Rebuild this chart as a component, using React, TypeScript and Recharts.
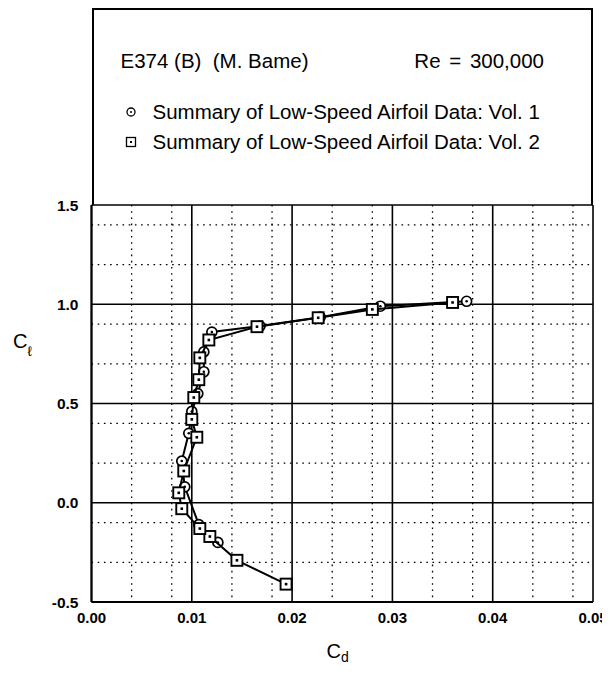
import { ScatterChart, Scatter, XAxis, YAxis, CartesianGrid, Legend, Label } from 'recharts'

// Vol. 1 (circles), ordered by Cl
const vol1Cd = [0.0126, 0.0107, 0.0093, 0.009, 0.0097, 0.01, 0.0106, 0.0112, 0.0112, 0.012, 0.0168, 0.0228, 0.0288, 0.0374]
const vol1Cl = [-0.2, -0.11, 0.08, 0.21, 0.35, 0.46, 0.55, 0.66, 0.76, 0.86, 0.89, 0.935, 0.99, 1.015]

// Vol. 2 (squares)
const vol2Cd = [0.0194, 0.0145, 0.0118, 0.0108, 0.009, 0.0087, 0.0092, 0.0105, 0.01, 0.0102, 0.0107, 0.0108, 0.0117, 0.0165, 0.0226, 0.028, 0.036]
const vol2Cl = [-0.41, -0.29, -0.17, -0.13, -0.03, 0.05, 0.16, 0.33, 0.42, 0.53, 0.62, 0.73, 0.82, 0.887, 0.932, 0.974, 1.009]

const cdTicks = [0, 0.01, 0.02, 0.03, 0.04, 0.05]
const clTicks = [-0.5, 0, 0.5, 1.0, 1.5]
const cdMinor = [0.002, 0.004, 0.006, 0.008, 0.012, 0.014, 0.016, 0.018, 0.022, 0.024, 0.026, 0.028, 0.032, 0.034, 0.036, 0.038, 0.042, 0.044, 0.046, 0.048]
const clMinor = [-0.4, -0.3, -0.2, -0.1, 0.1, 0.2, 0.3, 0.4, 0.6, 0.7, 0.8, 0.9, 1.1, 1.2, 1.3, 1.4]

const seriesNames = ['Summary of Low-Speed Airfoil Data: Vol. 1', 'Summary of Low-Speed Airfoil Data: Vol. 2']

const vol1 = vol1Cd.map((cd, i) => ({ cd, cl: vol1Cl[i] }))
const vol2 = vol2Cd.map((cd, i) => ({ cd, cl: vol2Cl[i] }))

const FONT = '"Liberation Sans", Arial, sans-serif'

function CircleDot({ cx, cy }: any) {
  return (
    <g>
      <circle cx={cx} cy={cy} r={5} fill="#fff" stroke="#000" strokeWidth={1.7} />
      <circle cx={cx} cy={cy} r={1.3} fill="#000" />
    </g>
  )
}

function SquareDot({ cx, cy }: any) {
  return (
    <g>
      <rect x={cx - 5.5} y={cy - 5.5} width={11} height={11} fill="#fff" stroke="#000" strokeWidth={1.9} />
      <rect x={cx - 1.3} y={cy - 1.3} width={2.6} height={2.6} fill="#000" />
    </g>
  )
}

function LegendIcon({ idx }: { idx: number }) {
  return (
    <svg width={12} height={12} style={{ position: 'absolute', left: -6, top: 4 }}>
      {idx === 0 ? (
        <>
          <circle cx={6} cy={6} r={4} fill="#fff" stroke="#000" strokeWidth={1.3} />
          <circle cx={6} cy={6} r={1} fill="#000" />
        </>
      ) : (
        <>
          <rect x={1.5} y={1.5} width={9} height={9} fill="#fff" stroke="#000" strokeWidth={1.3} />
          <rect x={5} y={5} width={2} height={2} fill="#000" />
        </>
      )}
    </svg>
  )
}

function HeaderBox({ payload }: any) {
  const items = payload ?? []
  return (
    <div
      style={{
        boxSizing: 'border-box',
        height: 197,
        width: 501.5,
        border: '2px solid #000',
        borderBottom: 'none',
        position: 'relative',
        fontFamily: FONT,
        fontSize: 20.5,
        lineHeight: '20px',
        color: '#000',
      }}
    >
      <span style={{ position: 'absolute', left: 27, top: 41 }}>E374 (B)&nbsp;&nbsp;(M. Bame)</span>
      <span style={{ position: 'absolute', right: 47, top: 41, wordSpacing: 3 }}>Re = 300,000</span>
      {items.map((entry: any, i: number) => (
        <div key={i} style={{ position: 'absolute', left: 37, top: 92 + i * 30, whiteSpace: 'nowrap' }}>
          <LegendIcon idx={i} />
          <span style={{ position: 'absolute', left: 22, top: 0 }}>{entry.value}</span>
        </div>
      ))}
    </div>
  )
}

function ClLabel({ viewBox }: any) {
  return (
    <text x={viewBox.x + 5} y={viewBox.y + 143} fontFamily={FONT} fontSize={20} fill="#000">
      C<tspan fontSize={14} dy={8}>ℓ</tspan>
    </text>
  )
}

function CdLabel({ viewBox }: any) {
  return (
    <text x={viewBox.x + 235} y={viewBox.y + 56} fontFamily={FONT} fontSize={20} fill="#000">
      C<tspan fontSize={14} dy={4}>d</tspan>
    </text>
  )
}

export default function App() {
  return (
    <ScatterChart width={602} height={660} margin={{ top: 0, right: 17, bottom: 0, left: 0 }}>
      <CartesianGrid
        stroke="#000"
        strokeWidth={1.3}
        strokeDasharray="1.6 4.6"
        verticalValues={cdMinor}
        horizontalValues={clMinor}
      />
      <CartesianGrid stroke="#000" strokeWidth={1.6} verticalValues={cdTicks} horizontalValues={clTicks} />
      <XAxis
        type="number"
        dataKey="cd"
        domain={[0, 0.05]}
        ticks={cdTicks}
        tickFormatter={(v: number) => v.toFixed(2)}
        tick={{ fill: '#000', fontFamily: FONT, fontSize: 15, fontWeight: 700 }}
        tickSize={0}
        tickMargin={10}
        height={66}
        axisLine={{ stroke: '#000', strokeWidth: 2 }}
      >
        <Label content={<CdLabel />} />
      </XAxis>
      <YAxis
        type="number"
        dataKey="cl"
        domain={[-0.5, 1.5]}
        ticks={clTicks}
        tickFormatter={(v: number) => v.toFixed(1)}
        tick={{ fill: '#000', fontFamily: FONT, fontSize: 15.5, fontWeight: 700 }}
        tickSize={0}
        tickMargin={13}
        width={83.5}
        axisLine={{ stroke: '#000', strokeWidth: 2 }}
      >
        <Label content={<ClLabel />} />
      </YAxis>
      <Legend
        verticalAlign="top"
        content={<HeaderBox />}
        wrapperStyle={{ left: 83.5, top: 0, width: 501.5, height: 197 }}
      />
      <Scatter
        name={seriesNames[0]}
        data={vol1}
        line={{ stroke: '#000', strokeWidth: 2 }}
        shape={<CircleDot />}
        isAnimationActive={false}
      />
      <Scatter
        name={seriesNames[1]}
        data={vol2}
        line={{ stroke: '#000', strokeWidth: 2 }}
        shape={<SquareDot />}
        isAnimationActive={false}
      />
    </ScatterChart>
  )
}
